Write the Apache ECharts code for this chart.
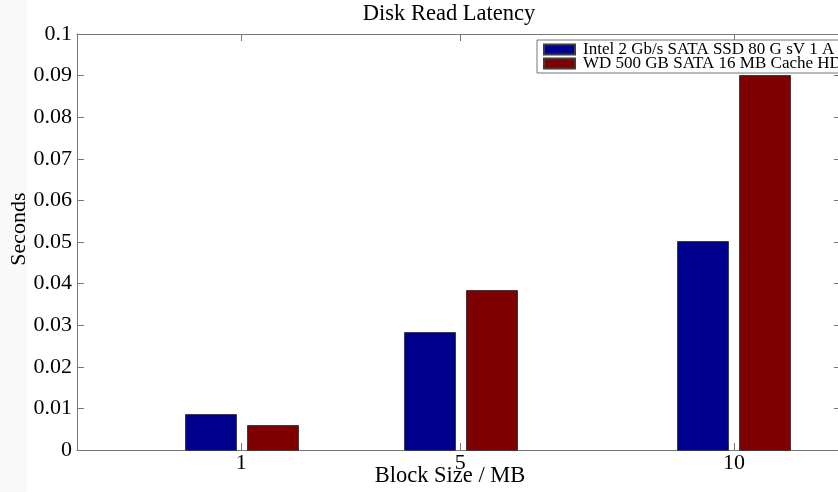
<!DOCTYPE html>
<html>
<head>
<meta charset="utf-8">
<script src="https://cdn.jsdelivr.net/npm/echarts@6/dist/echarts.min.js"></script>
<style>
  html, body { margin: 0; padding: 0; background: #ffffff; }
  #chart { width: 838px; height: 492px; }
</style>
</head>
<body>
<div id="chart"></div>
<script>
// Block sizes (MB) on the x axis
const blockSizes = [1, 5, 10];
// Read latency in seconds for each drive
const ssdLatency = [0.0087, 0.0284, 0.0503];
const hddLatency = [0.0059, 0.0385, 0.0901];
const seriesNames = [
  'Intel 2 Gb/s SATA SSD 80 G sV 1 A',
  'WD 500 GB SATA 16 MB Cache HD'
];
const yTicks = [0, 0.01, 0.02, 0.03, 0.04, 0.05, 0.06, 0.07, 0.08, 0.09, 0.1];

const FONT = '"Liberation Serif", "Times New Roman", serif';
const AXIS_GRAY = '#777777';
const TICK_LEN = 7;
const BAR_W = 51;        // bar width in px
const BAR_SHIFT = 31;    // distance of each bar centre from the group centre, px
const BAR_EDGE = '#3c3c3c';

const chart = echarts.init(document.getElementById('chart'), null, { renderer: 'canvas' });

const pairs = (vals) => blockSizes.map((b, i) => [b, vals[i]]);

// Grouped bars on a numeric x axis: each bar is shifted sideways from its block size
function groupedBar(name, color, values, side) {
  return {
    name: name,
    type: 'custom',
    xAxisIndex: 0,
    yAxisIndex: 0,
    itemStyle: { color: color, borderColor: BAR_EDGE, borderWidth: 1 },
    encode: { x: 0, y: 1 },
    data: pairs(values),
    renderItem: function (params, api) {
      const top = api.coord([api.value(0), api.value(1)]);
      const base = api.coord([api.value(0), 0]);
      const cx = top[0] + side * BAR_SHIFT;
      return {
        type: 'rect',
        shape: { x: Math.round(cx - BAR_W / 2) + 0.5, y: Math.round(top[1]) + 0.5, width: BAR_W, height: Math.round(base[1] - top[1]) },
        style: { fill: color, stroke: BAR_EDGE, lineWidth: 1 }
      };
    }
  };
}

chart.setOption({
  animation: false,
  backgroundColor: '#ffffff',
  graphic: [
    { type: 'rect', z: -10, shape: { x: 0, y: 0, width: 27, height: 492 }, style: { fill: '#f9f9f9' } },
    { type: 'text', x: 449, y: 3, style: { text: 'Disk Read Latency', font: '22.5px ' + FONT, fill: '#000', align: 'center', verticalAlign: 'top' } },
    { type: 'text', x: 450, y: 465, style: { text: 'Block Size / MB', font: '22.5px ' + FONT, fill: '#000', align: 'center', verticalAlign: 'top' } },
    { type: 'text', x: 19, y: 229, rotation: Math.PI / 2, style: { text: 'Seconds', font: '22px ' + FONT, fill: '#000', align: 'center', verticalAlign: 'middle' } }
  ],
  grid: { left: 77, top: 34, right: 0, height: 416, containLabel: false },
  legend: {
    orient: 'vertical',
    left: 537,
    top: 40,
    padding: [1, 6, 1, 6],
    itemGap: -3,
    itemWidth: 31,
    itemHeight: 10,
    backgroundColor: '#ffffff',
    borderColor: AXIS_GRAY,
    borderWidth: 1,
    borderRadius: 0,
    icon: 'rect',
    textStyle: { fontFamily: FONT, fontSize: 17, color: '#000', lineHeight: 15, padding: [0, 0, 0, 3] },
    data: seriesNames
  },
  xAxis: [
    {
      type: 'value', position: 'bottom', min: -2, max: 11.9,
      axisLine: { show: true, onZero: false, lineStyle: { color: AXIS_GRAY, width: 1 } },
      axisTick: { show: true, inside: true, length: TICK_LEN, customValues: blockSizes, lineStyle: { color: AXIS_GRAY } },
      axisLabel: { show: true, customValues: blockSizes, margin: 2, fontFamily: FONT, fontSize: 22, color: '#000' },
      splitLine: { show: false }
    },
    {
      type: 'value', position: 'top', min: -2, max: 11.9,
      axisLine: { show: true, onZero: false, lineStyle: { color: AXIS_GRAY, width: 1 } },
      axisTick: { show: true, inside: true, length: TICK_LEN, customValues: blockSizes, lineStyle: { color: AXIS_GRAY } },
      axisLabel: { show: false },
      splitLine: { show: false }
    }
  ],
  yAxis: [
    {
      type: 'value', position: 'left', min: 0, max: 0.1, interval: 0.01,
      axisLine: { show: true, onZero: false, lineStyle: { color: AXIS_GRAY, width: 1 } },
      axisTick: { show: true, inside: true, length: TICK_LEN, lineStyle: { color: AXIS_GRAY } },
      axisLabel: { show: true, margin: 5, fontFamily: FONT, fontSize: 22, color: '#000',
        customValues: yTicks, formatter: (v) => String(+v.toFixed(2)) },
      splitLine: { show: false }
    },
    {
      type: 'value', position: 'right', min: 0, max: 0.1, interval: 0.01,
      axisLine: { show: false, onZero: false },
      axisTick: { show: true, inside: true, length: 4, lineStyle: { color: AXIS_GRAY } },
      axisLabel: { show: false },
      splitLine: { show: false }
    }
  ],
  series: [
    groupedBar(seriesNames[0], '#00008f', ssdLatency, -1),
    groupedBar(seriesNames[1], '#7f0000', hddLatency, 1)
  ]
});
</script>
</body>
</html>
